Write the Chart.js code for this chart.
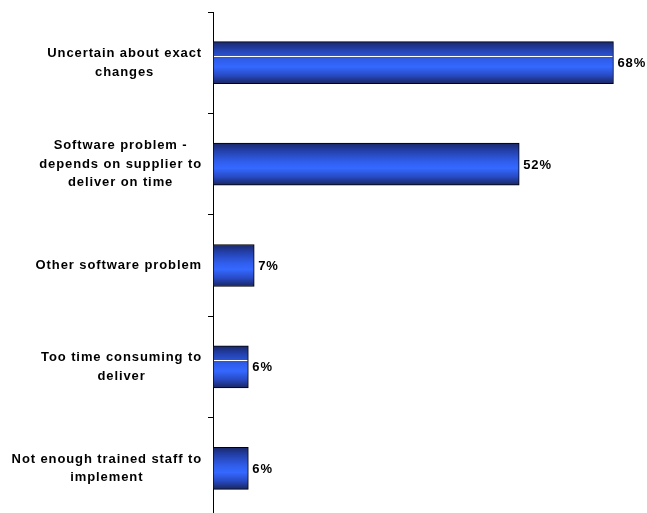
<!DOCTYPE html>
<html>
<head>
<meta charset="utf-8">
<script src="https://cdn.jsdelivr.net/npm/chart.js@4/dist/chart.umd.min.js"></script>
<style>
  html, body { margin: 0; padding: 0; background: #fff; overflow: hidden; }
  canvas { display: block; }
</style>
</head>
<body>
<!-- the plot runs a few pixels past the bottom of the window -->
<canvas id="chart" width="647" height="519"></canvas>
<script>
// Reasons given, one entry per bar (each inner array is the wrapped label)
const categories = [
    ["Uncertain about exact", "changes"],
    ["Software problem -", "depends on supplier to", "deliver on time"],
    ["Other software problem"],
    ["Too time consuming to", "deliver"],
    ["Not enough trained staff to", "implement"]
];
const values = [68, 52, 7, 6, 6];   // percent of respondents
const glossBars = [0, 3];          // bars that carry the thin white highlight

const FONT = 'bold 13px "Liberation Sans", Arial, sans-serif';
const BAR_THICKNESS = 42;

/**
 * Vertical gradient: navy edges, bright blue middle.
 */
function barGradient(c) {
    const chart = c.chart;
    if (!chart.chartArea) return '#3366ff';
    const y = chart.scales.y.getPixelForValue(c.dataIndex);
    const h = BAR_THICKNESS / 2;
    const g = chart.ctx.createLinearGradient(0, y - h, 0, y + h);
    g.addColorStop(0, '#1a286a');
    g.addColorStop(0.2, '#2442b0');
    g.addColorStop(0.45, '#305fee');
    g.addColorStop(0.6, '#3468ff');
    g.addColorStop(0.8, '#284ac4');
    g.addColorStop(1, '#19265f');
    return g;
}

// Category labels: each block right-aligned against the axis, lines centred inside the block
const categoryLabels = {
    id: 'categoryLabels',
    afterDraw(chart) {
        const ctx = chart.ctx;
        const scale = chart.scales.y;
        const rightEdge = scale.right - 11;
        const lineHeight = 18.5;
        ctx.save();
        ctx.font = FONT;
        ctx.letterSpacing = '0.9px';
        ctx.fillStyle = '#000';
        ctx.textAlign = 'center';
        ctx.textBaseline = 'middle';
        categories.forEach((lines, i) => {
            const yMid = scale.getPixelForValue(i);
            const blockWidth = Math.max(...lines.map(l => ctx.measureText(l).width));
            const cx = rightEdge - blockWidth / 2;
            const y0 = yMid - (lines.length - 1) * lineHeight / 2;
            lines.forEach((line, j) => ctx.fillText(line, cx, y0 + j * lineHeight));
        });
        ctx.restore();
    }
};

// Percent labels after each bar, plus the white highlight line on some bars
const barDecorations = {
    id: 'barDecorations',
    afterDatasetsDraw(chart) {
        const ctx = chart.ctx;
        const meta = chart.getDatasetMeta(0);
        ctx.save();

        ctx.strokeStyle = '#ffffff';
        ctx.lineWidth = 1;
        glossBars.forEach(i => {
            const bar = meta.data[i];
            const y = Math.round(bar.y - bar.height / 2 + bar.height * 0.34) + 0.5;
            ctx.beginPath();
            ctx.moveTo(bar.base + 1, y);
            ctx.lineTo(bar.x - 1, y);
            ctx.stroke();
        });

        ctx.font = FONT;
        ctx.letterSpacing = '0.9px';
        ctx.fillStyle = '#000';
        ctx.textAlign = 'left';
        ctx.textBaseline = 'middle';
        meta.data.forEach((bar, i) => {
            ctx.fillText(values[i] + '%', bar.x + 4, bar.y + 1);
        });
        ctx.restore();
    }
};

new Chart(document.getElementById('chart'), {
    type: 'bar',
    data: {
        labels: categories.map(l => l.join(' ')),
        datasets: [{
            data: values,
            backgroundColor: barGradient,
            borderColor: '#000',
            borderWidth: 1,
            borderSkipped: false,
            barThickness: BAR_THICKNESS
        }]
    },
    options: {
        indexAxis: 'y',
        responsive: false,
        animation: false,
        layout: { padding: { top: 12, right: 10, bottom: 0, left: 0 } },
        plugins: {
            legend: { display: false },
            tooltip: { enabled: false }
        },
        scales: {
            x: {
                display: false,
                min: 0,
                max: 72
            },
            y: {
                afterFit: scale => { scale.width = 213; },
                ticks: { display: false },
                grid: {
                    offset: true,
                    drawOnChartArea: false,
                    drawTicks: true,
                    tickLength: 5,
                    color: '#000',
                    lineWidth: 1
                },
                border: { display: true, color: '#000', width: 1 }
            }
        }
    },
    plugins: [categoryLabels, barDecorations]
});
</script>
</body>
</html>
